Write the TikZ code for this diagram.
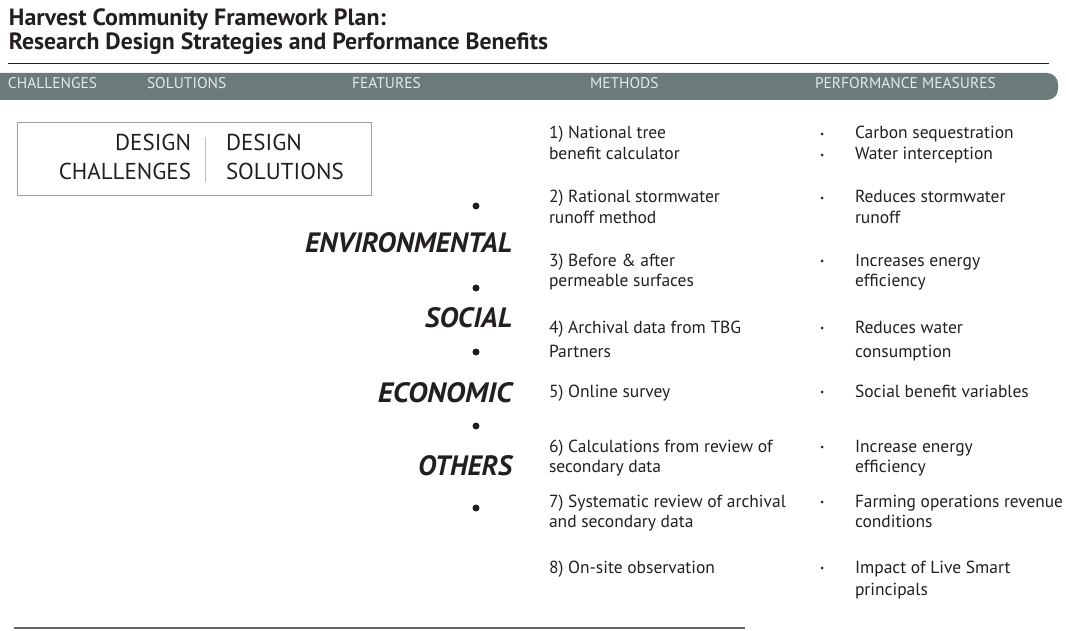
\documentclass[tikz,border=0pt]{standalone}
\usepackage{fontspec}
\setmainfont{PT Sans}
\definecolor{ink}{HTML}{231F20}
\definecolor{barfill}{HTML}{6A7B79}
\definecolor{bartext}{HTML}{E4EAE8}
\definecolor{frame}{HTML}{A0A0A0}
\newcommand\fitto[2]{\resizebox{#1pt}{\height}{#2}}
\begin{document}
\begin{tikzpicture}[x=1pt,y=-1pt,
  every node/.style={inner sep=0pt, outer sep=0pt, text=ink},
  titletext/.style={anchor=base west, font=\fontsize{23.5}{23.5}\selectfont\bfseries},
  bartxt/.style={anchor=base west, text=bartext, font=\fontsize{15.5}{15.5}\selectfont},
  boxtxt/.style={font=\fontsize{23}{23}\selectfont},
  cattxt/.style={anchor=base east, font=\fontsize{28}{28}\selectfont\bfseries\itshape},
  methodtxt/.style={anchor=base west, font=\fontsize{17.5}{17.5}\selectfont},
  bigdot/.style={circle, fill=ink, minimum size=7pt},
  smalldot/.style={circle, fill=ink, minimum size=3pt}]
\useasboundingbox (0,0) rectangle (1066,631);
\clip (0,0) rectangle (1066,631);

% title and rule
\node[titletext] (t1) at (9,26) {\fitto{377}{Harvest Community Framework Plan:}};
\node[titletext] (t2) at (9,50) {\fitto{539}{Research Design Strategies and Performance Benefits}};
\draw[ink, line width=1.5pt] (8,63.5) -- (1049,63.5);

% header bar
\fill[barfill, rounded corners=11pt] (-20,73) rectangle (1058,100);
\node[bartxt] (hc) at (8,89)   {CHALLENGES};
\node[bartxt] (hs) at (147,89) {SOLUTIONS};
\node[bartxt] (hf) at (352,89) {FEATURES};
\node[bartxt] (hm) at (590,89) {METHODS};
\node[bartxt] (hp) at (815,89) {PERFORMANCE MEASURES};

% legend box
\draw[frame, line width=1pt] (17,123) rectangle (371,196);
\draw[frame!70, line width=1pt] (205,137) -- (205,182);
\node[boxtxt, anchor=base east] (dc1) at (191,151) {DESIGN};
\node[boxtxt, anchor=base east] (dc2) at (191,180) {CHALLENGES};
\node[boxtxt, anchor=base west] (ds1) at (226,151) {DESIGN};
\node[boxtxt, anchor=base west] (ds2) at (226,180) {SOLUTIONS};

% categories
\node[bigdot] (b1) at (476,206) {};
\node[cattxt] (env) at (512,253) {\fitto{207}{ENVIRONMENTAL}};
\node[bigdot] (b2) at (476,288) {};
\node[cattxt] (soc) at (512,327) {\fitto{87}{SOCIAL}};
\node[bigdot] (b3) at (476,352) {};
\node[cattxt] (eco) at (512,402) {\fitto{134}{ECONOMIC}};
\node[bigdot] (b4) at (476,426) {};
\node[cattxt] (oth) at (512,475) {\fitto{94}{OTHERS}};
\node[bigdot] (b5) at (476,508) {};

% methods
\node[methodtxt] (m1a) at (549,139) {1) National tree};
\node[methodtxt] (m1b) at (549,160) {benefit calculator};
\node[methodtxt] (m2a) at (549,203) {2) Rational stormwater};
\node[methodtxt] (m2b) at (549,224) {runoff method};
\node[methodtxt] (m3a) at (549,266) {3) Before \& after};
\node[methodtxt] (m3b) at (549,287) {permeable surfaces};
\node[methodtxt] (m4a) at (549,333) {4) Archival data from TBG};
\node[methodtxt] (m4b) at (549,357) {Partners};
\node[methodtxt] (m5a) at (549,397) {5) Online survey};
\node[methodtxt] (m6a) at (549,452) {6) Calculations from review of};
\node[methodtxt] (m6b) at (549,472) {secondary data};
\node[methodtxt] (m7a) at (549,507) {7) Systematic review of archival};
\node[methodtxt] (m7b) at (549,527) {and secondary data};
\node[methodtxt] (m8a) at (549,573) {8) On-site observation};

% performance measures
\foreach \y [count=\i] in {134,155,198,261,328,392,447,502,568}
  \node[smalldot] (pd\i) at (822,\y) {};
\node[methodtxt] (p1a) at (855,139) {Carbon sequestration};
\node[methodtxt] (p1b) at (855,160) {Water interception};
\node[methodtxt] (p2a) at (855,203) {Reduces stormwater};
\node[methodtxt] (p2b) at (855,224) {runoff};
\node[methodtxt] (p3a) at (855,266) {Increases energy};
\node[methodtxt] (p3b) at (855,287) {efficiency};
\node[methodtxt] (p4a) at (855,333) {Reduces water};
\node[methodtxt] (p4b) at (855,357) {consumption};
\node[methodtxt] (p5a) at (855,397) {Social benefit variables};
\node[methodtxt] (p6a) at (855,452) {Increase energy};
\node[methodtxt] (p6b) at (855,472) {efficiency};
\node[methodtxt] (p7a) at (855,507) {\fitto{208}{Farming operations revenue}};
\node[methodtxt] (p7b) at (855,527) {conditions};
\node[methodtxt] (p8a) at (855,573) {Impact of Live Smart};
\node[methodtxt] (p8b) at (855,595) {principals};

% closing rule
\draw[black!60, line width=1.5pt] (14,628) -- (745,628);
\end{tikzpicture}
\end{document}
